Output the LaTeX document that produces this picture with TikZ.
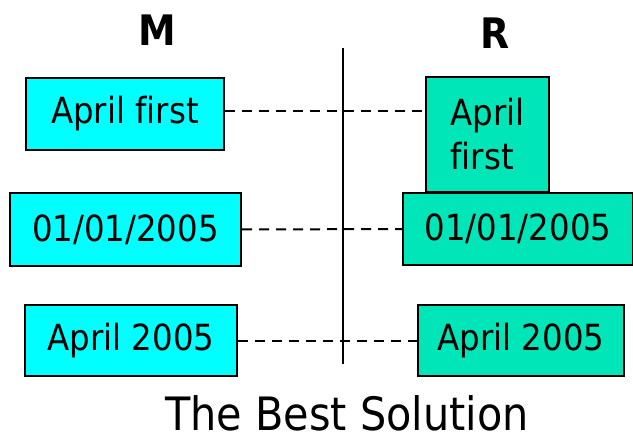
\documentclass[tikz,border=0pt]{standalone}
\usepackage{fontspec}
\setmainfont{DejaVu Sans Condensed}[Ligatures=NoCommon]

\begin{document}
\begin{tikzpicture}[
			x=1pt, y=-1pt,
			box/.style={
				rectangle,
				draw,
				line width=2pt,
				inner sep=0pt,
				align=center,
				font=\fontsize{36}{44}\selectfont
			},
			mbox/.style={
				box,
				fill=mcyan
			},
			rbox/.style={
				box,
				fill=rgreen
			},
			link/.style={
				dashed,
				dash pattern=on 10pt off 7pt,
				line width=2pt
			},
			head/.style={
				font=\fontsize{42}{44}\selectfont\bfseries
			}
			]
			\definecolor{mcyan}{RGB}{0,255,255}
			\definecolor{rgreen}{RGB}{0,230,185}
			\useasboundingbox (0,0) rectangle (633,442);
			
			\node (mhead) [head] at (157,30) {M};
			\node (rhead) [head] at (495,33) {R};
			
			\coordinate (divtop) at (343,48);
			\coordinate (divbot) at (343,364);
			\draw [line width=2pt] (divtop) -- (divbot);
			
			\node (mfirst) [mbox, minimum width=198pt, minimum height=72pt] at (125,114) {April first};
			\node (mdate) [mbox, minimum width=231pt, minimum height=73pt] at (125.5,229.5) {01/01/2005};
			\node (mmonth) [mbox, minimum width=212pt, minimum height=71pt] at (131,340.5) {April 2005};
			
			\node (rfirst) [rbox, align=left, minimum width=123pt, minimum height=115pt] at (487.5,134.5) {April\\first};
			\node (rdate) [rbox, minimum width=230pt, minimum height=72pt] at (518,229) {01/01/2005};
			\node (rmonth) [rbox, minimum width=206pt, minimum height=71pt] at (521,340.5) {April 2005};
			
			\draw [link] ([yshift=3pt]mfirst.east) -- ([yshift=3pt]mfirst.east -| rfirst.west);
			\draw [link] (mdate) -- (rdate);
			\draw [link] (mmonth) -- (rmonth);
			
			\node (title) [font=\fontsize{46}{50}\selectfont] at (347,413) {The Best Solution};
			
		\end{tikzpicture}
\end{document}
